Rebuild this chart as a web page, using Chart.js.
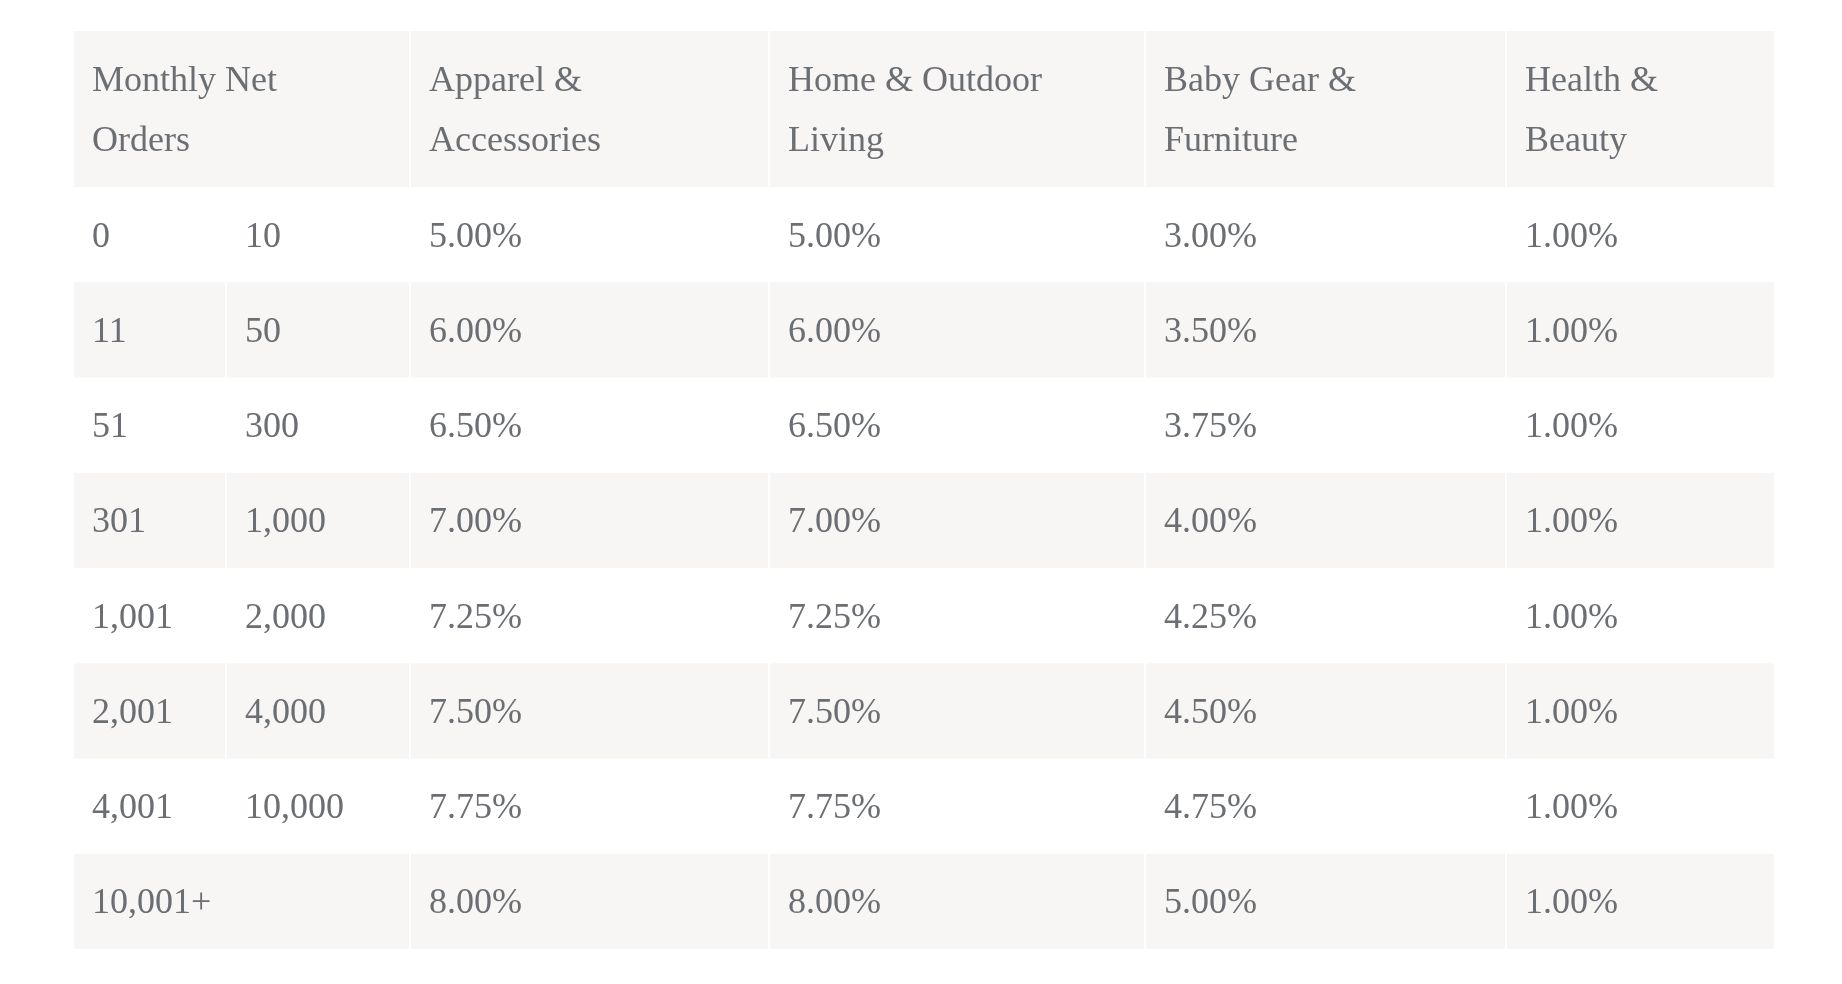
<!DOCTYPE html>
<html>
<head>
<meta charset="utf-8">
<title>Commission rates</title>
<script src="https://cdn.jsdelivr.net/npm/chart.js@4.4.1/dist/chart.umd.min.js"></script>
<style>
    html, body { margin: 0; padding: 0; background: #ffffff; }
    #wrap { width: 1842px; height: 984px; position: relative; }
</style>
</head>
<body>
<div id="wrap"><canvas id="rateTable"></canvas></div>
<script>
// #### Data
const headerLines = [
    ['Monthly Net', 'Orders'],
    ['Apparel &', 'Accessories'],
    ['Home & Outdoor', 'Living'],
    ['Baby Gear &', 'Furniture'],
    ['Health &', 'Beauty']
];
const ordersFrom = ['0', '11', '51', '301', '1,001', '2,001', '4,001', '10,001+'];
const ordersTo = ['10', '50', '300', '1,000', '2,000', '4,000', '10,000', ''];
const apparelRates = [5.00, 6.00, 6.50, 7.00, 7.25, 7.50, 7.75, 8.00];
const homeOutdoorRates = [5.00, 6.00, 6.50, 7.00, 7.25, 7.50, 7.75, 8.00];
const babyGearRates = [3.00, 3.50, 3.75, 4.00, 4.25, 4.50, 4.75, 5.00];
const healthBeautyRates = [1.00, 1.00, 1.00, 1.00, 1.00, 1.00, 1.00, 1.00];

// #### Layout / style
const colWidths = [153, 184, 359, 376, 361, 267]; // from, to, then the four categories
const headerSpan = 1.638;  // header height in body-row units
const cellPad = 18;
const lineGap = 60;
const capShift = 12;       // baseline offset so caps sit on the row centre
const stripe = '#f7f6f4';
const ink = '#6b6e72';
const cellFont = '36px "Liberation Serif", serif';

const colStart = colWidths.map((w, i) => colWidths.slice(0, i).reduce((a, b) => a + b, 0));
const tableWidth = colWidths.reduce((a, b) => a + b, 0);
const rowCount = ordersFrom.length;
const pct = v => v.toFixed(2) + '%';

// one dataset per text column, each point anchored at the left edge of its cell
function columnData(texts, col) {
    return texts.map((t, i) => ({ x: colStart[col], y: i + 0.5, text: t }));
}

const headerCols = [0, 2, 3, 4, 5];
const datasets = [
    { label: 'header', data: headerLines.map((l, i) => ({ x: colStart[headerCols[i]], y: -headerSpan / 2, lines: l })) },
    { label: 'from', data: columnData(ordersFrom, 0) },
    { label: 'to', data: columnData(ordersTo, 1) },
    { label: 'Apparel & Accessories', data: columnData(apparelRates.map(pct), 2) },
    { label: 'Home & Outdoor Living', data: columnData(homeOutdoorRates.map(pct), 3) },
    { label: 'Baby Gear & Furniture', data: columnData(babyGearRates.map(pct), 4) },
    { label: 'Health & Beauty', data: columnData(healthBeautyRates.map(pct), 5) }
];

// cell spans per row: [firstCol, lastColExclusive]
function rowSpans(row) {
    if (row < 0 || ordersTo[row] === '') {
        return [[0, 2], [2, 3], [3, 4], [4, 5], [5, 6]];
    }
    return [[0, 1], [1, 2], [2, 3], [3, 4], [4, 5], [5, 6]];
}

// #### Plugin: striped cells + cell text
const tableCells = {
    id: 'tableCells',
    beforeDatasetsDraw(chart) {
        const { ctx, scales: { x, y } } = chart;
        ctx.save();
        ctx.fillStyle = stripe;
        for (let row = -1; row < rowCount; row++) {
            if (row >= 0 && row % 2 === 0) continue; // white rows
            const top = y.getPixelForValue(row < 0 ? -headerSpan : row);
            const bottom = y.getPixelForValue(row < 0 ? 0 : row + 1);
            rowSpans(row).forEach(([a, b]) => {
                const x0 = x.getPixelForValue(colStart[a]);
                const x1 = x.getPixelForValue(b < colWidths.length ? colStart[b] : tableWidth) - (b < colWidths.length ? 2 : 0);
                ctx.fillRect(x0, top, x1 - x0, bottom - top);
            });
        }
        ctx.restore();
    },
    afterDatasetsDraw(chart) {
        const { ctx } = chart;
        ctx.save();
        ctx.font = cellFont;
        ctx.fillStyle = ink;
        ctx.textAlign = 'left';
        ctx.textBaseline = 'alphabetic';
        chart.data.datasets.forEach((ds, di) => {
            const meta = chart.getDatasetMeta(di);
            meta.data.forEach((pt, i) => {
                const raw = ds.data[i];
                const lines = raw.lines || [raw.text];
                const first = pt.y - (lines.length - 1) * lineGap / 2;
                lines.forEach((line, k) => {
                    ctx.fillText(line, pt.x + cellPad, first + k * lineGap + capShift);
                });
            });
        });
        ctx.restore();
    }
};

new Chart(document.getElementById('rateTable'), {
    type: 'scatter',
    data: { datasets },
    options: {
        responsive: true,
        maintainAspectRatio: false,
        animation: false,
        events: [],
        layout: { padding: { left: 74, right: 68, top: 31, bottom: 35 } },
        elements: { point: { radius: 0, hoverRadius: 0 } },
        scales: {
            x: { type: 'linear', min: 0, max: tableWidth, display: false },
            y: { type: 'linear', min: -headerSpan, max: rowCount, reverse: true, display: false }
        },
        plugins: {
            legend: { display: false },
            tooltip: { enabled: false }
        }
    },
    plugins: [tableCells]
});
</script>
</body>
</html>
